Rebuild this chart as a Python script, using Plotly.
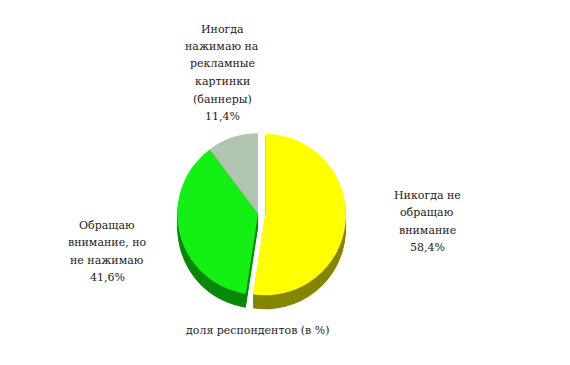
import plotly.graph_objects as go

# ---- data ----
categories = [
    ["Никогда не", "обращаю", "внимание"],
    ["Обращаю", "внимание, но", "не нажимаю"],
    ["Иногда", "нажимаю на", "рекламные", "картинки", "(баннеры)"],
]
values = [58.4, 41.6, 11.4]
value_labels = ["58,4%", "41,6%", "11,4%"]
title_text = "доля респондентов (в %)"

# ---- styles ----
top_colors = ["#FFFF00", "#14F014", "#B0C6B0"]
side_colors = ["#858500", "#0A880A", "#4A524A"]
pulls = [0.09, 0, 0]

W, H = 570, 365
cx, cy, R = 258, 214, 88
depth = 14
line_h = 17.5
font = dict(family="DejaVu Serif", size=11, color="#222222")

def dom(offset):
    return dict(
        x=[(cx - R) / W, (cx + R) / W],
        y=[1 - (cy + offset + R) / H, 1 - (cy + offset - R) / H],
    )

names = [" ".join(c) for c in categories]

fig = go.Figure()
for d in range(depth, 0, -2):
    fig.add_trace(go.Pie(
        labels=names, values=values, sort=False, direction="clockwise",
        rotation=0, pull=pulls, textinfo="none", hoverinfo="skip",
        marker=dict(colors=side_colors, line=dict(width=0)),
        domain=dom(d), showlegend=False,
    ))
fig.add_trace(go.Pie(
    labels=names, values=values, sort=False, direction="clockwise",
    rotation=0, pull=pulls, textinfo="none",
    marker=dict(colors=top_colors, line=dict(width=0)),
    domain=dom(0), showlegend=False,
))

# first-line positions (px) of each label block
label_pos = [(427, 195), (107, 225), (222, 29)]
for cat, vl, (px, py) in zip(categories, value_labels, label_pos):
    for i, line in enumerate(cat + [vl]):
        fig.add_annotation(
            x=px / W, y=1 - (py + i * line_h) / H, xref="paper", yref="paper",
            text=line, showarrow=False, font=font,
            xanchor="center", yanchor="middle", align="center",
        )
fig.add_annotation(
    x=258 / W, y=1 - 330 / H, xref="paper", yref="paper",
    text=title_text, showarrow=False, font=font,
    xanchor="center", yanchor="middle",
)

fig.update_layout(
    width=W, height=H, margin=dict(l=0, r=0, t=0, b=0),
    paper_bgcolor="white", plot_bgcolor="white",
    font=font,
)
fig.write_html("out.html")
